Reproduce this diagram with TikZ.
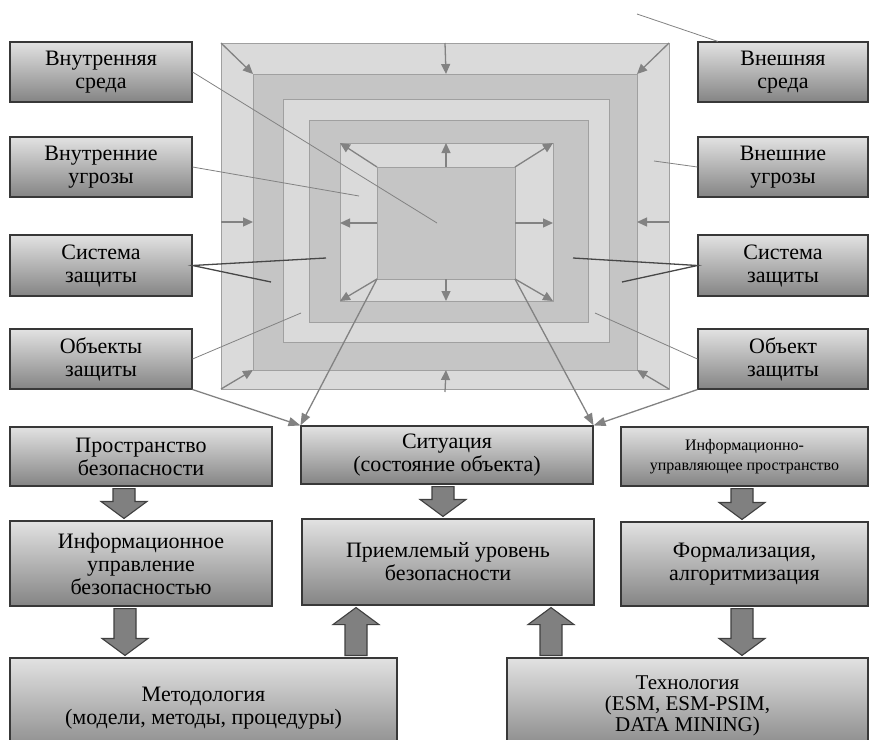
\documentclass[tikz,border=0pt]{standalone}
\usepackage{fontspec}
\setmainfont{Liberation Serif}
\usetikzlibrary{arrows.meta,calc}
\definecolor{framelight}{RGB}{218,218,218}
\definecolor{framedark}{RGB}{197,197,197}
\definecolor{frameline}{RGB}{160,160,160}
\definecolor{leadcol}{RGB}{130,130,130}
\definecolor{boxtop}{RGB}{226,226,226}
\definecolor{boxbot}{RGB}{132,132,132}

\tikzset{
  infobox/.style={draw=black!78, line width=1.1pt, top color=boxtop, bottom color=boxbot,
    align=center, inner sep=1pt, font=\fontsize{22}{23}\selectfont},
  leader/.style={leadcol, line width=0.8pt},
  leaderdark/.style={black!72, line width=1.3pt},
  framearrow/.style={leadcol, line width=1.3pt, -{Triangle[length=10pt,width=9pt]}},
  sitarrow/.style={leadcol, line width=1.3pt, -{Triangle[length=12pt,width=9pt]}},
  fatar/.style={draw=black!75, fill=black!50, line width=1.1pt}
}

% block arrow: x, from, to, direction (1 down, -1 up)
\newcommand{\fatarrow}[4]{%
  \coordinate (fa-a) at (#1,0 |- #2);
  \coordinate (fa-b) at (#1,0 |- #3);
  \coordinate (fa-s) at ($(fa-a)+(0,{2*(#4)})$);
  \coordinate (fa-e) at ($(fa-b)+(0,{-2*(#4)})$);
  \draw[fatar] ($(fa-s)+(-11,0)$) -- ($(fa-s)+(11,0)$) -- ($(fa-e)+(11,{-17*(#4)})$)
    -- ($(fa-e)+(23,{-17*(#4)})$) -- (fa-e) -- ($(fa-e)+(-23,{-17*(#4)})$)
    -- ($(fa-e)+(-11,{-17*(#4)})$) -- cycle;
}

\begin{document}
\begin{tikzpicture}[x=1pt,y=-1pt]
\useasboundingbox (0,0) rectangle (869,739);
% nested frames
\foreach \xa/\ya/\xb/\yb/\col in {221/43/669/389/framelight, 253/74/637/370/framedark,
    283/99/609/342/framelight, 309/120/588/322/framedark,
    340/143/553/301/framelight, 377/167/515/279/framedark}
  \draw[frameline, fill=\col, line width=0.8pt] (\xa,\ya) rectangle (\xb,\yb);
% arrows of outer and inner frame
\foreach \xa/\ya/\xb/\yb in {221/43/253/74, 669/43/637/74, 221/389/253/370, 669/389/637/370,
    445/43/446/74, 445/392/446/370, 221/222/253/222, 669/222/637/222,
    377/167/340/143, 515/167/553/143, 377/279/340/301, 515/279/553/301,
    446/167/446/143, 446/279/446/301, 377/223/340/223, 515/223/553/223}
  \draw[framearrow] (\xa,\ya) -- (\xb,\yb);
% points inside the frames
\coordinate (p-core) at (437,223);
\coordinate (p-ithreat) at (359,196);
\coordinate (p-idef1) at (326,258);
\coordinate (p-idef2) at (271,282);
\coordinate (p-iobj) at (301,313);
\coordinate (p-out) at (637,14);
\coordinate (p-ethreat) at (654,161);
\coordinate (p-edef1) at (573,258);
\coordinate (p-edef2) at (622,282);
\coordinate (p-eobj) at (595,313);
\coordinate (p-coresw) at (377,279);
\coordinate (p-corese) at (515,279);

% left column
\node[infobox, minimum width=182, minimum height=60] (isreda) at (101,72) {Внутренняя\\среда};
\node[infobox, minimum width=182, minimum height=60] (iugroz) at (101,167) {Внутренние\\угрозы};
\node[infobox, minimum width=182, minimum height=61] (isyst) at (101,265.5) {Система\\защиты};
\node[infobox, minimum width=182, minimum height=60] (iobj) at (101,359) {Объекты\\защиты};
% right column
\node[infobox, minimum width=170, minimum height=60] (esreda) at (783,72) {Внешняя\\среда};
\node[infobox, minimum width=170, minimum height=60] (eugroz) at (783,167) {Внешние\\угрозы};
\node[infobox, minimum width=170, minimum height=61] (esyst) at (783,265.5) {Система\\защиты};
\node[infobox, minimum width=170, minimum height=60] (eobj) at (783,359) {Объект\\защиты};
% lower blocks
\node[infobox, minimum width=262, minimum height=59] (prostr) at (141,456.5) {Пространство\\безопасности};
\node[infobox, minimum width=292, minimum height=58] (situac) at (447,455) {Ситуация\\(состояние объекта)};
\node[infobox, minimum width=247, minimum height=59, font=\fontsize{16}{20}\selectfont]
  (iuprostr) at (744.5,456.5) {Информационно-\\управляющее пространство};
\node[infobox, minimum width=262, minimum height=85] (iupravl) at (141,563.5) {Информационное\\управление\\безопасностью};
\node[infobox, minimum width=292, minimum height=86] (uroven) at (448,562) {Приемлемый уровень\\безопасности};
\node[infobox, minimum width=247, minimum height=84] (formal) at (744.5,564) {Формализация,\\алгоритмизация};
\node[infobox, minimum width=387, minimum height=100] (metod) at (203.5,708) {Методология\\(модели, методы, процедуры)};
\node[infobox, minimum width=361, minimum height=96, font=\fontsize{21}{21}\selectfont]
  (tehnol) at (687.5,706) {Технология\\(ESM, ESM-PSIM,\\DATA MINING)};

% leaders
\draw[leader] (isreda.east) -- (p-core);
\draw[leader] (iugroz.east) -- (p-ithreat);
\draw[leaderdark] (p-idef1) -- (isyst.east) -- (p-idef2);
\draw[leader] (iobj.east) -- (p-iobj);
\draw[leader] (p-out) -- ($(esreda.north west)!0.12!(esreda.north east)$);
\draw[leader] (eugroz.west) -- (p-ethreat);
\draw[leaderdark] (p-edef1) -- (esyst.west) -- (p-edef2);
\draw[leader] (eobj.west) -- (p-eobj);
% into the situation
\draw[sitarrow] (iobj.south east) -- (situac.north west);
\draw[sitarrow] (p-coresw) -- (situac.north west);
\draw[sitarrow] (eobj.south west) -- (situac.north east);
\draw[sitarrow] (p-corese) -- (situac.north east);

% block arrows
\fatarrow{124}{prostr.south}{iupravl.north}{1}
\fatarrow{125}{iupravl.south}{metod.north}{1}
\fatarrow{443}{situac.south}{uroven.north}{1}
\fatarrow{742}{iuprostr.south}{formal.north}{1}
\fatarrow{742}{formal.south}{tehnol.north}{1}
\fatarrow{356}{metod.north}{uroven.south}{-1}
\fatarrow{551}{tehnol.north}{uroven.south}{-1}
\end{tikzpicture}
\end{document}
